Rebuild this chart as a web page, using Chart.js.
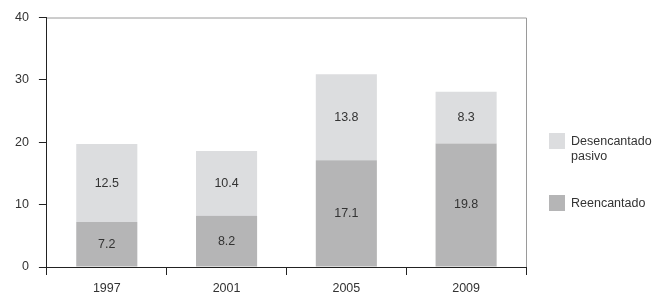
<!DOCTYPE html>
<html>
<head>
<meta charset="utf-8">
<script src="https://cdn.jsdelivr.net/npm/chart.js@4/dist/chart.umd.min.js"></script>
<style>
  html, body { margin: 0; padding: 0; background: #fff; }
  #wrap { position: relative; width: 672px; height: 304px; }
  canvas { position: absolute; left: 0; top: 0; }
  .leg { position: absolute; font-family: "Liberation Sans", Arial, sans-serif; font-size: 12.5px; color: #333; line-height: 15px; }
  .sw { position: absolute; width: 16px; height: 16px; }
</style>
</head>
<body>
<div id="wrap">
  <canvas id="c" width="672" height="304"></canvas>
  <div class="sw" style="left:549px; top:133px; background:#dcdddf;"></div>
  <div class="leg" style="left:571px; top:134px;">Desencantado<br>pasivo</div>
  <div class="sw" style="left:549px; top:195px; background:#b5b5b6;"></div>
  <div class="leg" style="left:571px; top:196px;">Reencantado</div>
</div>
<script>
const categories = ["1997", "2001", "2005", "2009"];
const reencantado = [7.2, 8.2, 17.1, 19.8];
const desencantadoPasivo = [12.5, 10.4, 13.8, 8.3];
const yTicks = [0, 10, 20, 30, 40];

const FONT = '"Liberation Sans", Arial, sans-serif';

const frame = {
  id: 'frame',
  afterDraw(chart) {
    const { ctx, chartArea: a } = chart;
    ctx.save();
    ctx.strokeStyle = '#9a9a9a';
    ctx.lineWidth = 1;
    ctx.beginPath();
    ctx.moveTo(a.left, a.top + 0.5);
    ctx.lineTo(a.right + 0.5, a.top + 0.5);
    ctx.lineTo(a.right + 0.5, a.bottom);
    ctx.stroke();
    ctx.restore();
  }
};

const valueLabels = {
  id: 'valueLabels',
  afterDatasetsDraw(chart) {
    const { ctx } = chart;
    ctx.save();
    ctx.font = '12.5px ' + FONT;
    ctx.fillStyle = '#333';
    ctx.textAlign = 'center';
    ctx.textBaseline = 'middle';
    chart.data.datasets.forEach((ds, i) => {
      const meta = chart.getDatasetMeta(i);
      meta.data.forEach((bar, j) => {
        const v = ds.data[j];
        const y = (bar.y + bar.base) / 2;
        ctx.fillText(v.toFixed(1), bar.x, y);
      });
    });
    ctx.restore();
  }
};

new Chart(document.getElementById('c'), {
  type: 'bar',
  data: {
    labels: categories,
    datasets: [
      { label: 'Reencantado', data: reencantado, backgroundColor: '#b5b5b6' },
      { label: 'Desencantado pasivo', data: desencantadoPasivo, backgroundColor: '#dcdddf' }
    ]
  },
  options: {
    responsive: false,
    animation: false,
    devicePixelRatio: 1,
    layout: { padding: { left: 5, right: 146, top: 8, bottom: 2 } },
    plugins: { legend: { display: false }, tooltip: { enabled: false } },
    datasets: { bar: { categoryPercentage: 1, barPercentage: 0.51 } },
    scales: {
      x: {
        stacked: true,
        border: { color: '#222', width: 1 },
        grid: { display: true, offset: true, drawOnChartArea: false, tickLength: 8, color: '#222' },
        ticks: { color: '#333', font: { family: FONT, size: 12.5 }, padding: 6 }
      },
      y: {
        stacked: true,
        min: 0, max: 40,
        afterBuildTicks(axis) { axis.ticks = yTicks.map(v => ({ value: v })); },
        border: { color: '#222', width: 1 },
        grid: { display: true, drawOnChartArea: false, tickLength: 8, color: '#222' },
        ticks: { color: '#333', font: { family: FONT, size: 12.5 }, padding: 10 }
      }
    }
  },
  plugins: [frame, valueLabels]
});
</script>
</body>
</html>
